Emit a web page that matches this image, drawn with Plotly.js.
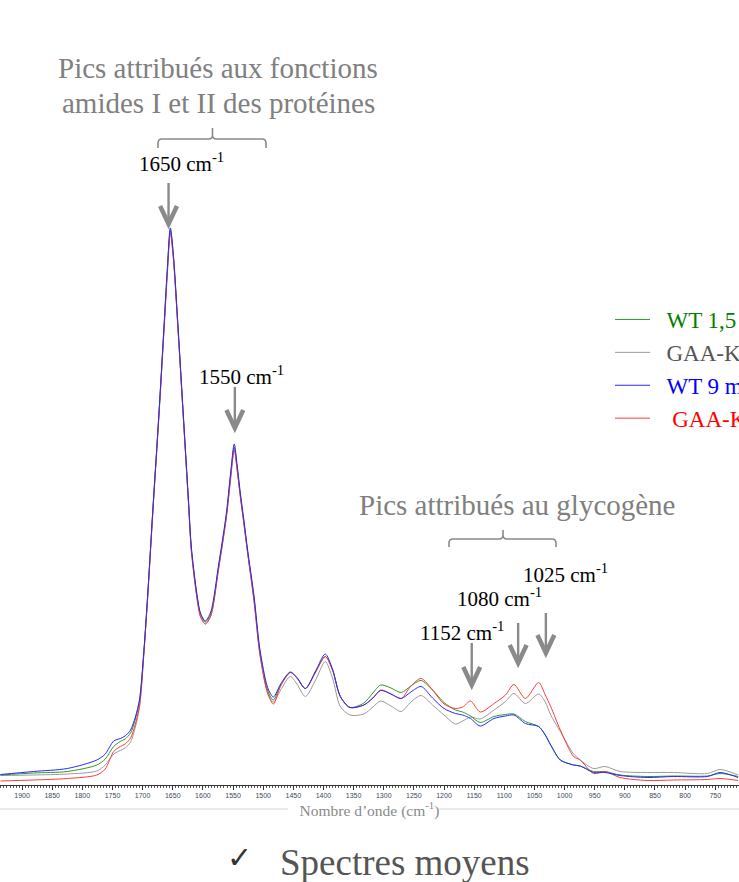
<!DOCTYPE html>
<html>
<head>
<meta charset="utf-8">
<script src="https://cdn.plot.ly/plotly-3.0.1.min.js"></script>
<style>html,body{margin:0;padding:0;background:#fff;overflow:hidden}#chart{width:739px;height:882px}</style>
</head>
<body>
<div id="chart"></div>
<script>
// Wavenumbers (cm-1), descending
const wavenumbers = [
  1936,1881,1825,1776,1762, 1748,1737,1729,1720,1712, 1705,1698,1691,1683,1673, 1665,1659,1654,1649,1642,
  1632,1624,1619,1609,1604, 1596,1587,1574,1561,1554, 1548,1543,1538,1532,1526, 1515,1506,1496,1491,1483,
  1471,1455,1444,1430,1413, 1397,1385,1372,1356,1333, 1318,1305,1288,1271,1255, 1238,1219,1200,1181,1169,
  1156,1140,1117,1098,1084, 1065,1043,1032,1023,1007, 985,974,952,933,908, 863,819,763,742,712
];
// Mean absorbance spectra
const wt15 = [
  .020,.024,.027,.040,.052, .077,.087,.092,.104,.132, .170,.265,.390,.550,.740, .905,1.030,1.112,1.058,.928,
  .728,.568,.470,.372,.342, .326,.342,.436,.540,.620, .676,.632,.581,.526,.468, .372,.272,.204,.184,.170,
  .200,.225,.214,.193,.226, .257,.230,.177,.155,.164, .184,.200,.194,.185,.198, .209,.190,.165,.150,.146,
  .138,.125,.137,.141,.142, .127,.117,.100,.080,.050, .040,.038,.027,.027,.020, .017,.018,.018,.023,.017
];
const gaa15 = [
  .019,.020,.022,.028,.040, .062,.069,.074,.086,.116, .156,.261,.388,.548,.738, .901,1.026,1.108,1.056,.926,
  .726,.566,.468,.368,.338, .322,.338,.432,.536,.614, .674,.630,.579,.524,.466, .366,.266,.200,.180,.166,
  .190,.217,.202,.177,.210, .247,.214,.157,.140,.142, .156,.168,.158,.147,.166, .179,.160,.140,.122,.128,
  .136,.132,.150,.167,.183, .163,.182,.166,.140,.107, .062,.050,.033,.037,.027, .025,.025,.023,.031,.020
];
const wt9 = [
  .021,.027,.033,.050,.062, .088,.093,.098,.110,.136, .172,.267,.392,.552,.742, .907,1.032,1.114,1.062,.932,
  .732,.572,.474,.374,.344, .328,.346,.440,.544,.624, .682,.638,.585,.530,.472, .376,.276,.210,.190,.176,
  .202,.226,.215,.193,.228, .262,.232,.177,.155,.160, .174,.189,.182,.173,.186, .197,.174,.153,.143,.140,
  .133,.118,.133,.138,.140, .123,.117,.100,.080,.050, .040,.038,.025,.025,.019, .015,.017,.017,.025,.015
];
const gaa9 = [
  .008,.010,.013,.020,.032, .067,.077,.082,.094,.122, .160,.261,.386,.546,.736, .899,1.022,1.104,1.052,.924,
  .726,.566,.466,.366,.336, .322,.338,.432,.536,.612, .670,.628,.577,.522,.466, .366,.266,.198,.178,.162,
  .198,.225,.214,.193,.226, .257,.230,.177,.155,.160, .174,.190,.182,.173,.198, .213,.190,.162,.153,.156,
  .168,.146,.163,.180,.201, .173,.205,.180,.157,.110, .057,.050,.023,.027,.015, .009,.010,.011,.013,.009
];
const seriesNames = ['WT 1,5 mois','GAA-KO 1,5 mois','WT 9 mois','GAA-KO 9 mois'];
const tickValues = [1900,1850,1800,1750,1700,1650,1600,1550,1500,1450,1400,1350,1300,1250,1200,1150,1100,1050,1000,950,900,850,800,750];
const peakLabels = ['1650 cm<sup>-1</sup>','1550 cm<sup>-1</sup>','1152 cm<sup>-1</sup>','1080 cm<sup>-1</sup>','1025 cm<sup>-1</sup>'];
const peakPositions = [1657, 1547, 1154, 1077, 1031];

const W = 739, PH = 785;
const px = v => v / W;
const py = v => 1 - v / PH;
const serif = 'Liberation Serif, Times New Roman, serif';
const NB = '\u00A0';

function trace(y, name, color, rank, txtColor, pad) {
  return {
    x: wavenumbers, y: y, type: 'scatter', mode: 'lines',
    name: '<span style="color:' + txtColor + '">' + NB.repeat(pad) + name + '</span>',
    legendrank: rank,
    line: {color: color, width: 1, shape: 'spline', smoothing: 0.8},
    hoverinfo: 'x+y'
  };
}
const data = [
  trace(gaa15, seriesNames[1], '#9a9a9a', 2, '#555555', 2),
  trace(wt15, seriesNames[0], '#2a9a2a', 1, '#008000', 2),
  trace(gaa9, seriesNames[3], '#ff3a3a', 4, '#ff0000', 3),
  trace(wt9, seriesNames[2], '#2828ff', 3, '#0000ff', 2)
];

const annotations = [];
function txt(text, x, y, size, color, family) {
  annotations.push({
    text: text, xref: 'paper', yref: 'paper', x: px(x), y: py(y),
    xanchor: 'center', yanchor: 'middle', showarrow: false,
    font: {family: family || serif, size: size, color: color}
  });
}
txt('Pics attribués aux fonctions', 218, 68, 29, '#808080');
txt('amides I et II des protéines', 218, 103, 29, '#808080');
txt('Pics attribués au glycogène', 517, 505, 29, '#808080');
txt(peakLabels[0], 181, 163, 21, '#000');
txt(peakLabels[1], 241, 375, 21, '#000');
txt(peakLabels[2], 462, 631, 21, '#000');
txt(peakLabels[3], 499, 597, 21, '#000');
txt(peakLabels[4], 565, 573, 21, '#000');
txt('✓', 239, 857, 30, '#333', 'DejaVu Sans');
txt('Spectres moyens', 405, 862, 37, '#555');

const shapes = [];
function bracket(x1, x2, y, yEnd, xc, yTop) {
  const r = 4;
  const path = 'M ' + px(x1) + ',' + py(yEnd) +
    ' L ' + px(x1) + ',' + py(y + r) +
    ' Q ' + px(x1) + ',' + py(y) + ' ' + px(x1 + r) + ',' + py(y) +
    ' L ' + px(xc - r) + ',' + py(y) +
    ' Q ' + px(xc) + ',' + py(y) + ' ' + px(xc) + ',' + py(y - r) +
    ' L ' + px(xc) + ',' + py(yTop) +
    ' M ' + px(xc) + ',' + py(y - r) +
    ' Q ' + px(xc) + ',' + py(y) + ' ' + px(xc + r) + ',' + py(y) +
    ' L ' + px(x2 - r) + ',' + py(y) +
    ' Q ' + px(x2) + ',' + py(y) + ' ' + px(x2) + ',' + py(y + r) +
    ' L ' + px(x2) + ',' + py(yEnd);
  shapes.push({type: 'path', xref: 'paper', yref: 'paper', path: path, line: {color: '#8a8a8a', width: 1.6}});
}
bracket(158, 266, 139, 148, 212.5, 128);
bracket(449, 556, 539, 547, 503, 530);

// arrows (data coordinates: wavenumber / absorbance)
const arrowTops = [1.204, 0.796, 0.284, 0.324, 0.344];
const arrowTips = [1.122, 0.714, 0.200, 0.244, 0.264];
const hw = 14, hh = 0.036;
peakPositions.forEach((w, i) => {
  shapes.push({type: 'line', xref: 'x', yref: 'y', x0: w, x1: w, y0: arrowTops[i], y1: arrowTips[i] + 0.006,
    line: {color: '#8a8a8a', width: 2.4}});
  shapes.push({type: 'path', xref: 'x', yref: 'y',
    path: 'M ' + (w + hw) + ',' + (arrowTips[i] + hh) + ' L ' + w + ',' + arrowTips[i] + ' L ' + (w - hw) + ',' + (arrowTips[i] + hh),
    line: {color: '#8a8a8a', width: 4.5}});
});
shapes.push({type: 'line', xref: 'paper', yref: 'paper', x0: 0, x1: px(288), y0: py(809), y1: py(809), line: {color: '#d6d6d6', width: 1}});
shapes.push({type: 'line', xref: 'paper', yref: 'paper', x0: px(437), x1: 1, y0: py(809), y1: py(809), line: {color: '#d6d6d6', width: 1}});

const layout = {
  width: 739, height: 882,
  margin: {l: 0, r: 0, t: 0, b: 97, pad: 0, autoexpand: false},
  paper_bgcolor: '#fff', plot_bgcolor: '#fff',
  showlegend: true,
  legend: {x: px(610), y: py(298), xanchor: 'left', yanchor: 'top', bgcolor: 'rgba(0,0,0,0)',
    font: {family: serif, size: 23, color: '#555'}, tracegroupgap: 0, itemwidth: 35},
  xaxis: {
    range: [1936.6, 710.6], tickmode: 'array', tickvals: tickValues,
    showgrid: false, zeroline: false, showline: true, linecolor: '#333', linewidth: 1,
    ticks: 'outside', ticklen: 4, tickcolor: '#333', tickwidth: 1,
    minor: {dtick: 5, ticks: 'outside', ticklen: 2, tickcolor: '#555', tickwidth: 1, showgrid: false},
    tickfont: {family: 'Liberation Sans, Arial, sans-serif', size: 7, color: '#3b4a5c'},
    title: {text: 'Nombre d’onde (cm<sup>-1</sup>)', font: {family: serif, size: 15.5, color: '#8a8a8a'}, standoff: 6},
    automargin: false,
    fixedrange: true
  },
  yaxis: {range: [0, 1.57], visible: false, fixedrange: true},
  annotations: annotations,
  shapes: shapes
};
Plotly.newPlot('chart', data, layout, {displayModeBar: false, staticPlot: true});
</script>
</body>
</html>
